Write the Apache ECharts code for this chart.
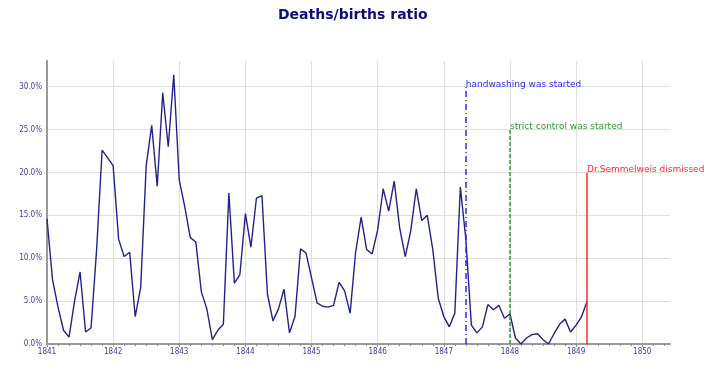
<!DOCTYPE html>
<html>
<head>
<meta charset="utf-8">
<script src="https://cdn.jsdelivr.net/npm/echarts@6/dist/echarts.min.js"></script>
<style>
  html, body { margin: 0; padding: 0; background: #fff; }
  #chart { width: 710px; height: 375px; }
</style>
</head>
<body>
<div id="chart"></div>
<script>
// monthly deaths/births ratio, clinic 1, Jan 1841 .. Mar 1849
const startYear = 1841;
const ratio = [
  0.146, 0.075, 0.043, 0.016, 0.008, 0.050, 0.084, 0.014, 0.019, 0.110, 0.226, 0.217,
  0.208, 0.122, 0.102, 0.107, 0.032, 0.066, 0.208, 0.255, 0.184, 0.293, 0.230, 0.314,
  0.191, 0.160, 0.124, 0.119, 0.061, 0.041, 0.005, 0.016, 0.023, 0.176, 0.071, 0.081,
  0.152, 0.113, 0.170, 0.173, 0.058, 0.027, 0.041, 0.064, 0.013, 0.032, 0.111, 0.106,
  0.077, 0.048, 0.044, 0.043, 0.045, 0.072, 0.062, 0.036, 0.107, 0.148, 0.110, 0.105,
  0.133, 0.181, 0.155, 0.190, 0.135, 0.102, 0.132, 0.181, 0.144, 0.150, 0.110, 0.053,
  0.032, 0.020, 0.036, 0.183, 0.122, 0.022, 0.013, 0.020, 0.046, 0.040, 0.045, 0.030,
  0.035, 0.007, 0.000, 0.007, 0.011, 0.012, 0.005, 0.000, 0.012, 0.023, 0.029, 0.014,
  0.022, 0.032, 0.050
];

const yearTicks = [1841, 1842, 1843, 1844, 1845, 1846, 1847, 1848, 1849, 1850];
const ratioTicks = [0, 0.05, 0.10, 0.15, 0.20, 0.25, 0.30];

// events: [label, year, month index (0 = Jan), line height, colour, dash]
const events = [
  ['handwashing was started', 1847, 4, 0.30, '#2a2aff', [6, 3, 1, 3]],
  ['strict control was started', 1848, 0, 0.25, '#2e9a2e', [4, 2]],
  ['Dr.Semmelweis dismissed', 1849, 2, 0.20, '#ff2a2a', 'solid']
];

const points = ratio.map((v, i) => [startYear + i / 12, v]);

const marks = events.map(([name, yr, m, top, color, dash]) => [
  { coord: [yr + m / 12, 0], lineStyle: { color: color, type: dash, width: 1.5 } },
  {
    coord: [yr + m / 12, top],
    label: {
      show: true, formatter: name, position: 'end', align: 'left',
      verticalAlign: 'bottom', distance: -2, color: color,
      fontFamily: 'DejaVu Sans', fontSize: 9
    }
  }
]);

const tickFont = {
  fontFamily: "'DejaVu Sans Condensed', 'Liberation Sans Narrow', 'DejaVu Sans', sans-serif",
  fontSize: 8,
  color: '#3c3ca8'
};

const chart = echarts.init(document.getElementById('chart'));
chart.setOption({
  animation: false,
  title: {
    text: 'Deaths/births ratio',
    left: 273,
    top: 3,
    textStyle: { fontFamily: 'DejaVu Sans', fontSize: 14, fontWeight: 'bold', color: '#0c0c82' }
  },
  grid: { left: 47, right: 40, top: 61, bottom: 31 },
  xAxis: {
    type: 'value',
    min: 1841,
    max: 1850.42,
    axisLine: { lineStyle: { color: '#999', width: 2 } },
    axisTick: { customValues: yearTicks, length: 3, lineStyle: { color: '#999' } },
    minorTick: { show: true, splitNumber: 12, length: 2, lineStyle: { color: '#888' } },
    axisLabel: Object.assign({ customValues: yearTicks, margin: 4, formatter: v => String(v) }, tickFont),
    splitLine: { show: true, lineStyle: { color: '#dedede', width: 1 } }
  },
  yAxis: {
    type: 'value',
    min: 0,
    max: 0.33,
    axisLine: { show: true, lineStyle: { color: '#999', width: 2 } },
    axisTick: { show: false, customValues: ratioTicks },
    axisLabel: Object.assign({
      customValues: ratioTicks, margin: 5,
      formatter: v => (v * 100).toFixed(1) + '%'
    }, tickFont),
    splitLine: { show: true, lineStyle: { color: '#dedede', width: 1 } }
  },
  series: [
    {
      type: 'line',
      data: points,
      showSymbol: false,
      lineStyle: { color: '#22228c', width: 1.4 },
      z: 2,
      markLine: {
        symbol: 'none',
        silent: true,
        z: 3,
        data: marks
      }
    }
  ]
});
</script>
</body>
</html>
